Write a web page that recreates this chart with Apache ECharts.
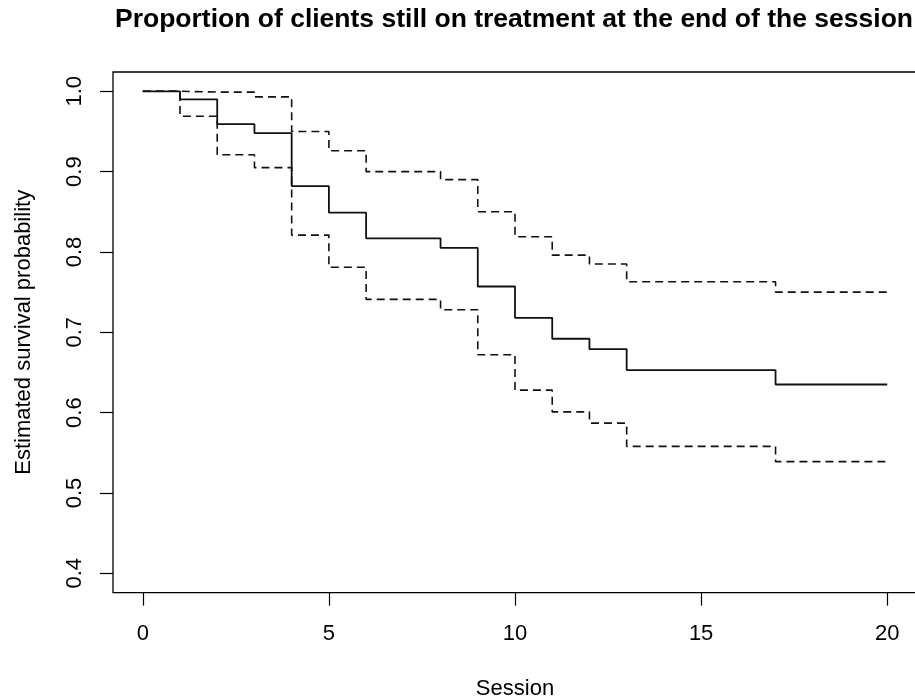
<!DOCTYPE html>
<html>
<head>
<meta charset="utf-8">
<script src="https://cdn.jsdelivr.net/npm/echarts@6/dist/echarts.min.js"></script>
<style>
  html, body { margin: 0; padding: 0; background: #fff; }
  #chart { width: 915px; height: 699px; }
</style>
</head>
<body>
<div id="chart"></div>
<script>
// session times where the estimate changes
var sessions = [0, 1, 2, 3, 4, 5, 6, 8, 9, 10, 11, 12, 13, 17, 20];
// Kaplan-Meier estimate
var survival = [1.0, 0.99, 0.959, 0.948, 0.882, 0.849, 0.817, 0.805, 0.757, 0.718, 0.692, 0.679, 0.653, 0.635, 0.635];
// confidence bounds
var upperCI = [1.0, 0.999, 0.999, 0.993, 0.950, 0.926, 0.900, 0.890, 0.850, 0.819, 0.796, 0.785, 0.763, 0.750, 0.750];
var lowerCI = [1.0, 0.969, 0.921, 0.905, 0.821, 0.781, 0.741, 0.728, 0.672, 0.628, 0.601, 0.587, 0.558, 0.539, 0.539];
var xTicks = [0, 5, 10, 15, 20];
var yTicks = [0.4, 0.5, 0.6, 0.7, 0.8, 0.9, 1.0];

function pairs(vals) {
    return sessions.map(function (t, i) { return [t, vals[i]]; });
}

// R style: axis range padded by 4% on each side
var xPad = (xTicks[xTicks.length - 1] - xTicks[0]) * 0.04;
var yPad = (yTicks[yTicks.length - 1] - yTicks[0]) * 0.04;

var font = 'Liberation Sans, Arial, sans-serif';
var option = {
    animation: false,
    backgroundColor: '#fff',
    title: {
        text: 'Proportion of clients still on treatment at the end of the session',
        left: 115,
        top: 6,
        padding: 0,
        textStyle: { fontFamily: font, fontSize: 26.5, fontWeight: 'bold', color: '#000' }
    },
    grid: {
        left: 113, right: -2, top: 72, bottom: 106.4, show: true,
        outerBoundsMode: 'none', containLabel: false,
        borderColor: '#000', borderWidth: 1.3, backgroundColor: 'transparent'
    },
    xAxis: {
        type: 'value',
        min: xTicks[0] - xPad,
        max: xTicks[xTicks.length - 1] + xPad,
        name: 'Session',
        nameLocation: 'middle',
        nameGap: 85,
        nameTextStyle: { fontFamily: font, fontSize: 22, color: '#000' },
        axisLine: { show: false, onZero: false },
        axisTick: { show: true, length: 13, customValues: xTicks,
            lineStyle: { color: '#000', width: 1.2 } },
        axisLabel: { margin: 30, customValues: xTicks, fontFamily: font, fontSize: 22, color: '#000' },
        splitLine: { show: false }
    },
    yAxis: {
        type: 'value',
        min: yTicks[0] - yPad,
        max: yTicks[yTicks.length - 1] + yPad,
        name: 'Estimated survival probability',
        nameLocation: 'middle',
        nameGap: 78,
        nameTextStyle: { fontFamily: font, fontSize: 22, color: '#000' },
        axisLine: { show: false, onZero: false },
        axisTick: { show: true, length: 13, customValues: yTicks,
            lineStyle: { color: '#000', width: 1.2 } },
        axisLabel: { rotate: 90, margin: 27, customValues: yTicks, fontFamily: font, fontSize: 22, color: '#000',
            formatter: function (v) { return v.toFixed(1); } },
        splitLine: { show: false }
    },
    series: [{
        name: 'survival',
        type: 'line',
        step: 'end',
        symbol: 'none',
        data: pairs(survival),
        lineStyle: { color: '#111', width: 1.8, type: 'solid' },
        z: 3
    }, {
        name: 'upper',
        type: 'line',
        step: 'end',
        symbol: 'none',
        data: pairs(upperCI),
        lineStyle: { color: '#111', width: 1.6, type: [8, 5] }
    }, {
        name: 'lower',
        type: 'line',
        step: 'end',
        symbol: 'none',
        data: pairs(lowerCI),
        lineStyle: { color: '#111', width: 1.6, type: [8, 5] }
    }]
};

var myChart = echarts.init(document.getElementById('chart'));
myChart.setOption(option);
</script>
</body>
</html>
